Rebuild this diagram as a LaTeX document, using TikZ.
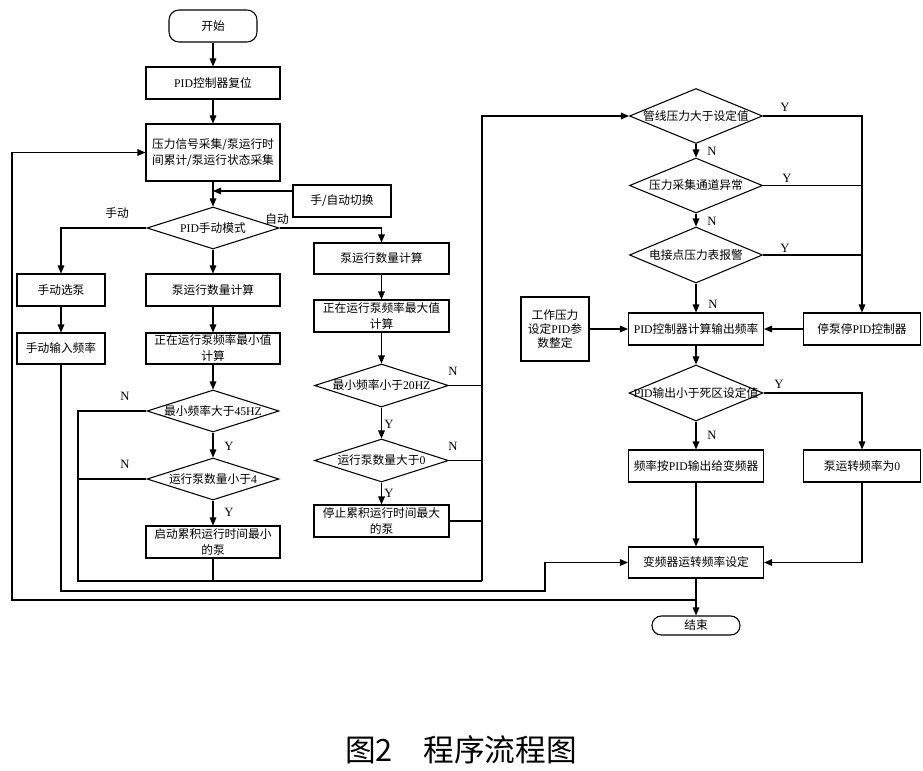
\documentclass[tikz,border=0pt]{standalone}
\usepackage{fontspec}
\setmainfont{Liberation Serif}
\newfontfamily\cjk{Noto Sans CJK SC}
\usetikzlibrary{shapes.geometric,arrows.meta}
\newcommand\lat[1]{{\rmfamily #1}}
\begin{document}
\begin{tikzpicture}[x=0.75pt,y=-0.75pt,line width=0.8pt,
  every node/.style={font=\cjk\fontsize{8.8}{12}\selectfont},
  sz/.style 2 args={minimum width=#1*0.75pt, minimum height=#2*0.75pt},
  box/.style={draw, rectangle, inner sep=0pt, align=center},
  dia/.style={draw, diamond, inner sep=0pt},
  term/.style={draw, rectangle, inner sep=0pt},
  arr/.style={-{Triangle[length=6pt,width=5pt]}},
  yn/.style={font=\rmfamily\fontsize{9.5}{11}\selectfont}]
\fill[white] (0,0) rectangle (923,770);
\useasboundingbox (0,0) rectangle (923,770);
% left / middle column
\node[term, rounded corners=7.5pt, sz={88}{32}] (start) at (213,26) {开始};
\node[box, sz={134}{32}] (reset) at (213,83) {\lat{PID}控制器复位};
\node[box, sz={134}{57}] (collect) at (213,152.5) {压力信号采集/泵运行时\\间累计/泵运行状态采集};
\node[box, sz={98}{32}] (switch) at (342,201) {手/自动切换};
\node[dia, sz={132}{42}] (mode) at (213,228) {\makebox[0pt]{\lat{PID}手动模式}};
\node[box, sz={88}{32}] (manualsel) at (61,290) {手动选泵};
\node[box, sz={88}{31}] (manualfreq) at (61,348.5) {手动输入频率};
\node[box, sz={134}{32}] (cntM) at (213,290) {泵运行数量计算};
\node[box, sz={134}{31}] (minF) at (213,348.5) {正在运行泵频率最小值\\计算};
\node[dia, sz={132}{42}] (d45) at (213,411) {\makebox[0pt]{最小频率大于\lat{45HZ}}};
\node[dia, sz={132}{42}] (d4) at (213,479) {\makebox[0pt]{运行泵数量小于\lat{4}}};
\node[box, sz={134}{32}] (startP) at (213,542) {启动累积运行时间最小\\的泵};
% right-of-middle column
\node[box, sz={135}{31}] (cntA) at (381.5,258.5) {泵运行数量计算};
\node[box, sz={135}{32}] (maxF) at (381.5,316) {正在运行泵频率最大值\\计算};
\node[dia, sz={134}{43}] (d20) at (381.5,385.5) {\makebox[0pt]{最小频率小于\lat{20HZ}}};
\node[dia, sz={134}{43}] (d0) at (381.5,460.5) {\makebox[0pt]{运行泵数量大于\lat{0}}};
\node[box, sz={135}{32}] (stopP) at (381.5,521) {停止累积运行时间最大\\的泵};
% right part
\node[dia, sz={133}{55}] (dP) at (696,116) {\makebox[0pt]{管线压力大于设定值}};
\node[dia, sz={133}{55}] (dC) at (696,185.5) {\makebox[0pt]{压力采集通道异常}};
\node[dia, sz={133}{56}] (dE) at (696,255) {\makebox[0pt]{电接点压力表报警}};
\node[box, sz={135}{32}] (pid) at (696,329) {\lat{PID}控制器计算输出频率};
\node[box, sz={68}{64}, font=\cjk\fontsize{8.8}{10.5}\selectfont] (work) at (555,329) {工作压力\\设定\lat{PID}参\\数整定};
\node[box, sz={117}{32}] (stop) at (862,329) {停泵停\lat{PID}控制器};
\node[dia, sz={134}{56}] (dDZ) at (696,393) {\makebox[0pt]{\lat{PID}输出小于死区设定值}};
\node[box, sz={135}{32}] (freqPID) at (696,466) {频率按\lat{PID}输出给变频器};
\node[box, sz={117}{32}] (zero) at (862,466) {泵运转频率为\lat{0}};
\node[box, sz={135}{31}] (vfd) at (696,562.5) {变频器运转频率设定};
\node[term, rounded corners=7pt, sz={88}{19}] (endn) at (696,625.5) {结束};
% connectors
\draw[arr] (start) -- (reset);
\draw[arr] (reset) -- (collect);
\draw[arr] (collect) -- (mode);
\coordinate (swj) at (213,191);
\draw[arr] (switch.west |- swj) -- (swj);
\draw[arr] (mode.west) -| (manualsel.north);
\draw[arr] (mode.east) -| (cntA.north);
\draw[arr] (mode) -- (cntM);
\draw[arr] (manualsel) -- (manualfreq);
\draw[arr] (cntM) -- (minF);
\draw[arr] (minF) -- (d45);
\draw[arr] (d45) -- (d4);
\draw[arr] (d4) -- (startP);
\coordinate (lb) at (78,581);
\coordinate (rb) at (482,581);
\draw (d45.west) -| (lb) -- (rb);
\draw (d4.west) -- (d4.west -| lb);
\draw (startP.south) -- (startP.south |- lb);
\draw[arr] (cntA) -- (maxF);
\draw[arr] (maxF) -- (d20);
\draw[arr] (d20) -- (d0);
\draw[arr] (d0) -- (stopP);
\draw (d20.east) -- (d20.east -| rb);
\draw (d0.east) -- (d0.east -| rb);
\draw (stopP.east) -- (stopP.east -| rb);
\draw[arr] (rb) -- (rb |- dP.west) -- (dP.west);
\coordinate (mf) at (545,591);
\draw[arr] (manualfreq.south) |- (mf) |- (vfd.west);
\coordinate (ol) at (12,600);
\draw[arr] (vfd.south |- ol) -- (ol) |- (collect.west);
\draw[arr] (vfd) -- (endn);
\draw[arr] (dP) -- (dC);
\draw[arr] (dC) -- (dE);
\draw[arr] (dE) -- (pid);
\draw[arr] (dP.east) -| (stop.north);
\draw (dC.east) -- (dC.east -| stop.north);
\draw (dE.east) -- (dE.east -| stop.north);
\draw[arr] (stop) -- (pid);
\draw[arr] (work) -- (pid);
\draw[arr] (pid) -- (dDZ);
\draw[arr] (dDZ.east) -| (zero.north);
\draw[arr] (dDZ) -- (freqPID);
\draw[arr] (freqPID) -- (vfd);
\draw[arr] (zero.south) |- (vfd.east);
% labels
\node (lsd) at (117,213) {手动};
\node (lzd) at (277,219) {自动};
\node[yn] (n1) at (125,396) {N};
\node[yn] (n2) at (125,464) {N};
\node[yn] (y1) at (229,446) {Y};
\node[yn] (y2) at (229,512) {Y};
\node[yn] (n3) at (453,371) {N};
\node[yn] (n4) at (453,446) {N};
\node[yn] (y3) at (389,424) {Y};
\node[yn] (y4) at (389,493) {Y};
\node[yn] (y5) at (785,107) {Y};
\node[yn] (y6) at (787,178) {Y};
\node[yn] (y7) at (785,248) {Y};
\node[yn] (n5) at (712,151) {N};
\node[yn] (n6) at (712,221) {N};
\node[yn] (n7) at (713,304) {N};
\node[yn] (y8) at (779,384) {Y};
\node[yn] (n8) at (712,435) {N};
% caption
\node[font=\cjk\fontsize{23}{28}\selectfont] (cap) at (461,750) {图2\hspace{1em}程序流程图};
\end{tikzpicture}
\end{document}
